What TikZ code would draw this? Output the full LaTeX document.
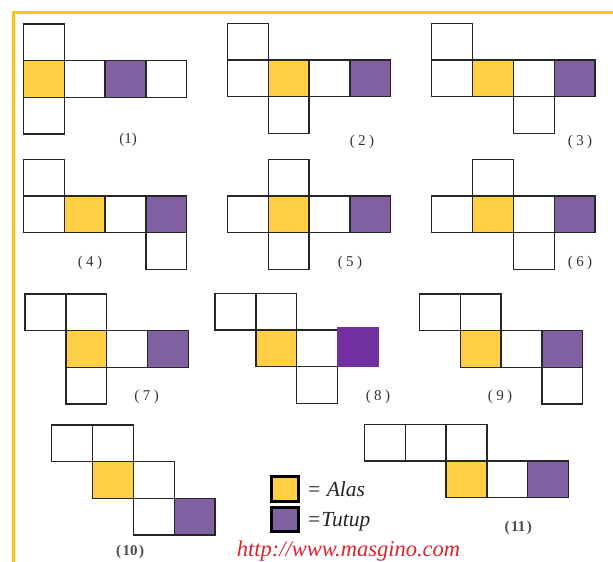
\documentclass[tikz,border=0pt]{standalone}
\usepackage{fontspec}
\setmainfont{Liberation Serif}
\definecolor{alas}{HTML}{FFCF44}
\definecolor{tutup}{HTML}{7F60A1}
\definecolor{tutupb}{HTML}{7030A0}
\definecolor{frame}{HTML}{FAC512}
\definecolor{urlred}{HTML}{E3222E}
\tikzset{
  cellbox/.style={draw=black!85, line width=1.3pt, line join=miter},
  lbl/.style={font=\fontsize{15}{15}\selectfont, text=black!80, inner sep=0pt},
  lblb/.style={font=\bfseries\fontsize{15}{15}\selectfont, text=black!70, inner sep=0pt},
  legbox/.style={draw=black, line width=2.6pt},
  legtext/.style={font=\itshape\fontsize{21.5}{21.5}\selectfont, text=black!85, inner sep=0pt, anchor=base west},
  netgrid/.style={x=40.85pt, y=-36.7pt}
}
\newcommand\netcell[3]{\draw[cellbox, fill=#3] (#1,#2) rectangle +(1,1);}
\begin{document}
\begin{tikzpicture}[x=1pt, y=-1pt]
\useasboundingbox (0,0) rectangle (613,562);
\fill[white] (0,0) rectangle (613,562);
% frame
\draw[frame, line width=3pt] (613,12.7) -- (13.3,12.7) -- (13.3,562);

% net 1
\begin{scope}[shift={(23.3,24)}, netgrid]
\netcell{0}{0}{white}\netcell{1}{1}{white}\netcell{3}{1}{white}\netcell{0}{2}{white}
\netcell{0}{1}{alas}\netcell{2}{1}{tutup}
\end{scope}
% net 2
\begin{scope}[shift={(227.3,23.3)}, netgrid]
\netcell{0}{0}{white}\netcell{0}{1}{white}\netcell{2}{1}{white}\netcell{1}{2}{white}
\netcell{1}{1}{alas}\netcell{3}{1}{tutup}
\end{scope}
% net 3
\begin{scope}[shift={(431.7,23.3)}, netgrid]
\netcell{0}{0}{white}\netcell{0}{1}{white}\netcell{2}{1}{white}\netcell{2}{2}{white}
\netcell{1}{1}{alas}\netcell{3}{1}{tutup}
\end{scope}
% net 4
\begin{scope}[shift={(23.3,159.3)}, netgrid]
\netcell{0}{0}{white}\netcell{0}{1}{white}\netcell{2}{1}{white}\netcell{3}{2}{white}
\netcell{1}{1}{alas}\netcell{3}{1}{tutup}
\end{scope}
% net 5
\begin{scope}[shift={(227.3,159.3)}, netgrid]
\netcell{1}{0}{white}\netcell{0}{1}{white}\netcell{2}{1}{white}\netcell{1}{2}{white}
\netcell{1}{1}{alas}\netcell{3}{1}{tutup}
\end{scope}
% net 6
\begin{scope}[shift={(431.7,159.3)}, netgrid]
\netcell{1}{0}{white}\netcell{0}{1}{white}\netcell{2}{1}{white}\netcell{2}{2}{white}
\netcell{1}{1}{alas}\netcell{3}{1}{tutup}
\end{scope}
% net 7
\begin{scope}[shift={(25,294)}, netgrid]
\netcell{0}{0}{white}\netcell{1}{0}{white}\netcell{2}{1}{white}\netcell{1}{2}{white}
\netcell{1}{1}{alas}\netcell{3}{1}{tutup}
\end{scope}
% net 8
\begin{scope}[shift={(215,293.3)}, netgrid]
\netcell{0}{0}{white}\netcell{1}{0}{white}\netcell{2}{1}{white}\netcell{2}{2}{white}
\netcell{1}{1}{alas}
\end{scope}
\fill[tutupb] (336.7,326.7) rectangle (379.3,367.3);
% net 9
\begin{scope}[shift={(419.3,294)}, netgrid]
\netcell{0}{0}{white}\netcell{1}{0}{white}\netcell{2}{1}{white}\netcell{3}{2}{white}
\netcell{1}{1}{alas}\netcell{3}{1}{tutup}
\end{scope}
% net 10
\begin{scope}[shift={(51.7,425)}, netgrid]
\netcell{0}{0}{white}\netcell{1}{0}{white}\netcell{2}{1}{white}\netcell{2}{2}{white}
\netcell{1}{1}{alas}\netcell{3}{2}{tutup}
\end{scope}
% net 11
\begin{scope}[shift={(364.3,424.3)}, netgrid]
\netcell{0}{0}{white}\netcell{1}{0}{white}\netcell{2}{0}{white}\netcell{3}{1}{white}
\netcell{2}{1}{alas}\netcell{4}{1}{tutup}
\end{scope}

% labels
\node[lbl] (l1) at (128,140) {(1)};
\node[lbl] (l2) at (362,141.7) {(\hspace{3.5pt}2\hspace{3.5pt})};
\node[lbl] (l3) at (580,141.7) {(\hspace{3.5pt}3\hspace{3.5pt})};
\node[lbl] (l4) at (90,263.3) {(\hspace{3.5pt}4\hspace{3.5pt})};
\node[lbl] (l5) at (350,263.3) {(\hspace{3.5pt}5\hspace{3.5pt})};
\node[lbl] (l6) at (580,263.3) {(\hspace{3.5pt}6\hspace{3.5pt})};
\node[lbl] (l7) at (146.7,396.7) {(\hspace{3.5pt}7\hspace{3.5pt})};
\node[lbl] (l8) at (378,396.7) {(\hspace{3.5pt}8\hspace{3.5pt})};
\node[lbl] (l9) at (500,396.7) {(\hspace{3.5pt}9\hspace{3.5pt})};
\node[lblb] (l10) at (130,551.7) {(\hspace{1.5pt}10\hspace{1.5pt})};
\node[lblb] (l11) at (518.3,528.3) {(\hspace{1.5pt}11\hspace{1.5pt})};

% legend
\draw[legbox, fill=alas] (271.7,476.7) rectangle (298.3,501.7);
\draw[legbox, fill=tutup] (271.7,507.7) rectangle (298.3,531.7);
\node[legtext] (alas) at (306.7,496.7) {= Alas};
\node[legtext] (tutup) at (306.7,526.7) {=Tutup};

% url
\node[anchor=base, text=urlred, font=\itshape\fontsize{22.5}{22.5}\selectfont, inner sep=0pt] (url) at (348.5,556.7) {http://www.masgino.com};
\end{tikzpicture}
\end{document}
